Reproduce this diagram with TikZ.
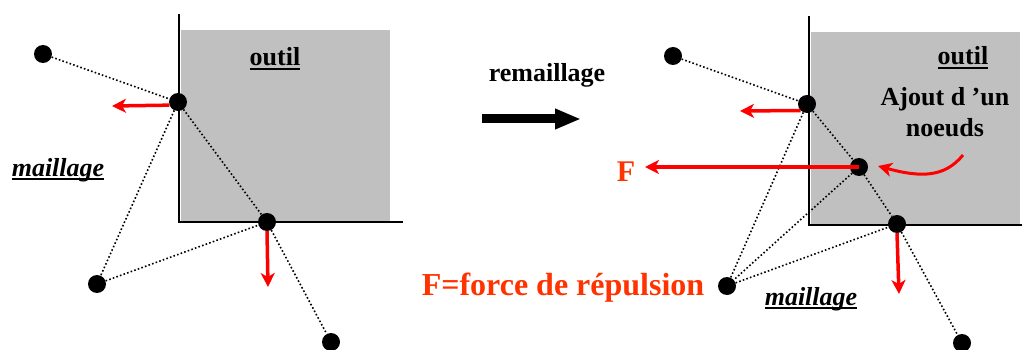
\documentclass[tikz,border=0pt]{standalone}
\usepackage{fontspec}
\setmainfont{Liberation Serif}
\usetikzlibrary{arrows.meta}
\definecolor{toolgray}{RGB}{192,192,192}
\definecolor{orangered}{RGB}{255,51,0}
\newcommand\myul[1]{\setbox0\hbox{#1}\rlap{\rule[-4pt]{\wd0}{2pt}}\box0}
\tikzset{
  dot/.style={circle,fill=black,inner sep=0pt,minimum size=18pt},
  meshedge/.style={line width=1.6pt,dash pattern=on 1.6pt off 2.2pt},
  toolline/.style={line width=2pt},
  force/.style={red,line width=3.5pt,-{Stealth[length=14pt,width=14pt,inset=4pt]}},
  lbl/.style={font=\fontsize{26}{28}\selectfont\bfseries,anchor=base,inner sep=0pt},
  bigarrow/.style={line width=9pt,-{Triangle[length=26pt,width=19pt]}}
}
\begin{document}
\begin{tikzpicture}[x=1pt,y=-1pt]
\useasboundingbox (0,0) rectangle (1023,350);
% ---- left panel ----
\fill[toolgray] (181,30) rectangle (390,222);
\coordinate (lt) at (179,14);
\coordinate (lc) at (179,222);
\coordinate (lr) at (403,222);
\draw[toolline] (lt) -- (lc) -- (lr);
\node[dot] (A) at (43,54) {};
\node[dot] (B) at (178,102) {};
\node[dot] (C) at (267,222) {};
\node[dot] (D) at (97,284) {};
\node[dot] (E) at (331,342) {};
\draw[meshedge] (A) -- (B);
\draw[meshedge] (B) -- (C);
\draw[meshedge] (B) -- (D);
\draw[meshedge] (D) -- (C);
\draw[meshedge] (C) -- (E);
\coordinate (Btip) at (112,106);
\coordinate (Ctip) at (268,287);
\draw[force] (B.200) -- (Btip);
\draw[force] (C.south) -- (Ctip);
\node[lbl] (outilL) at (275,66) {\myul{outil}};
\node[lbl] (maillL) at (58,176) {\myul{\itshape maillage}};
% ---- middle ----
\node[lbl] (rem) at (547,82) {remaillage};
\coordinate (as) at (482,119);
\coordinate (ae) at (581,119);
\draw[bigarrow] (as) -- (ae);
\node[lbl,font=\fontsize{32}{34}\selectfont\bfseries,text=orangered] (frep) at (563,295) {F=force de répulsion};
% ---- right panel ----
\fill[toolgray] (811,32) rectangle (1020,225);
\coordinate (rt) at (809,16);
\coordinate (rc) at (809,225);
\coordinate (rr) at (1022,225);
\draw[toolline] (rt) -- (rc) -- (rr);
\node[dot] (A2) at (673,56) {};
\node[dot] (B2) at (807,104) {};
\node[dot] (N2) at (859,167) {};
\node[dot] (C2) at (897,224) {};
\node[dot] (D2) at (727,286) {};
\node[dot] (E2) at (962,343) {};
\draw[meshedge] (A2) -- (B2);
\draw[meshedge] (B2) -- (N2);
\draw[meshedge] (N2) -- (C2);
\draw[meshedge] (B2) -- (D2);
\draw[meshedge] (N2) -- (D2);
\draw[meshedge] (D2) -- (C2);
\draw[meshedge] (C2) -- (E2);
\coordinate (B2tip) at (740,111);
\coordinate (C2tip) at (899,294);
\coordinate (Ftip) at (645,167);
\draw[force] (B2.south west) -- (B2tip);
\draw[force] (C2.south) -- (C2tip);
\draw[force] (N2.center) -- (Ftip);
\coordinate (cs) at (963,155);
\coordinate (ce) at (878,166);
\draw[force,line width=3pt] (cs) .. controls (945,177) and (922,178) .. (ce);
\node[lbl,font=\fontsize{30}{32}\selectfont\bfseries,text=orangered] (F) at (626,182) {F};
\node[lbl] (outilR) at (963,65) {\myul{outil}};
\node[lbl] (ajout) at (945,106) {Ajout d 'un};
\node[lbl] (noeuds) at (945,137) {noeuds};
\node[lbl] (maillR) at (811,305) {\myul{\itshape maillage}};
\end{tikzpicture}
\end{document}
